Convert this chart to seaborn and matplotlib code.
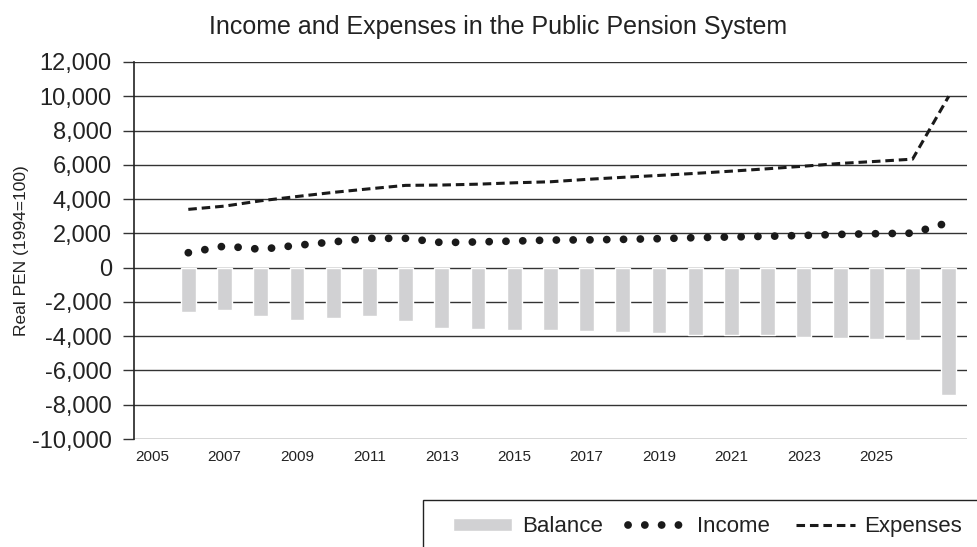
import pandas as pd
import seaborn as sns
import matplotlib.pyplot as plt
from matplotlib.patches import Rectangle
from matplotlib.ticker import FuncFormatter

years = list(range(2006, 2028))
income = [870, 1260, 1070, 1300, 1500, 1710, 1710, 1460, 1500, 1550,
          1610, 1620, 1650, 1690, 1750, 1790, 1830, 1880, 1940, 1980,
          2010, 2640]
expenses = [3400, 3590, 3900, 4150, 4390, 4600, 4800, 4820, 4870, 4950,
            5010, 5150, 5270, 5380, 5500, 5630, 5770, 5920, 6080, 6200,
            6330, 10000]
balance = [-2560, -2460, -2800, -3050, -2910, -2800, -3090, -3500, -3570, -3630,
           -3630, -3690, -3750, -3800, -3940, -3940, -3940, -4060, -4100, -4150,
           -4210, -7420]

data = pd.DataFrame({'Year': years, 'Income': income,
                     'Expenses': expenses, 'Balance': balance})

sns.set_theme(style='white')
plt.rcParams['font.family'] = ['Liberation Sans', 'DejaVu Sans']

fig = plt.figure(figsize=(9.78, 5.47), dpi=100)
ax = fig.add_axes([0.137, 0.1974, 0.8516, 0.6893])

# grid lines first, behind everything
for v in range(-10000, 12001, 2000):
    ax.axhline(v, color='#333333', linewidth=1.0, zorder=0)

sns.barplot(x='Year', y='Balance', data=data, native_scale=True, width=0.41,
            color='#d1d1d3', saturation=1, ax=ax, label='Balance', zorder=2)
sns.lineplot(x='Year', y='Income', data=data, ax=ax, color='#1a1a1a',
             linewidth=5.6, linestyle=(0, (0.01, 2.15)), label='Income',
             solid_capstyle='round', dash_capstyle='round', zorder=3)
sns.lineplot(x='Year', y='Expenses', data=data, ax=ax, color='#1a1a1a',
             linewidth=2.2, linestyle=(0, (2.8, 1.6)), label='Expenses', zorder=3)

ax.set_xlim(2004.5, 2027.5)
ax.set_ylim(-10000, 12000)
ax.set_xticks(range(2005, 2026, 2))
ax.set_yticks(range(-10000, 12001, 2000))
ax.yaxis.set_major_formatter(FuncFormatter(lambda v, p: f'{int(v):,}'))
ax.tick_params(axis='y', labelsize=17, length=8, width=1, color='#333333',
               left=True, pad=8, labelcolor='#222222')
ax.tick_params(axis='x', labelsize=11, length=0, pad=8, labelcolor='#222222')
ax.set_xlabel('')
ax.set_ylabel('Real PEN (1994=100)', fontsize=12.5, color='#222222')
ax.yaxis.set_label_coords(-0.126, 0.5)

for s in ['top', 'right', 'bottom']:
    ax.spines[s].set_visible(False)
ax.spines['left'].set_color('#222222')
ax.spines['left'].set_linewidth(1.2)

fig.suptitle('Income and Expenses in the Public Pension System',
             fontsize=18, color='#222222', x=0.509, y=0.938, va='baseline')

# legend box runs off the right edge of the figure
fig.patches.append(Rectangle((0.4325, -0.1), 0.7, 0.1859, transform=fig.transFigure,
                             facecolor='none', edgecolor='#222222', linewidth=1.0))

handles, labels = ax.get_legend_handles_labels()
order = [labels.index(n) for n in ['Balance', 'Income', 'Expenses']]
leg = ax.legend([handles[i] for i in order], [labels[i] for i in order],
                ncol=3, loc='center left', bbox_to_anchor=(0.4632, 0.0367),
                bbox_transform=fig.transFigure, fontsize=16, frameon=False,
                handlelength=2.65, handleheight=0.55, columnspacing=1.15,
                handletextpad=0.45, borderpad=0, borderaxespad=0)
for t in leg.get_texts():
    t.set_color('#222222')

fig.savefig('out.png', dpi=100)
